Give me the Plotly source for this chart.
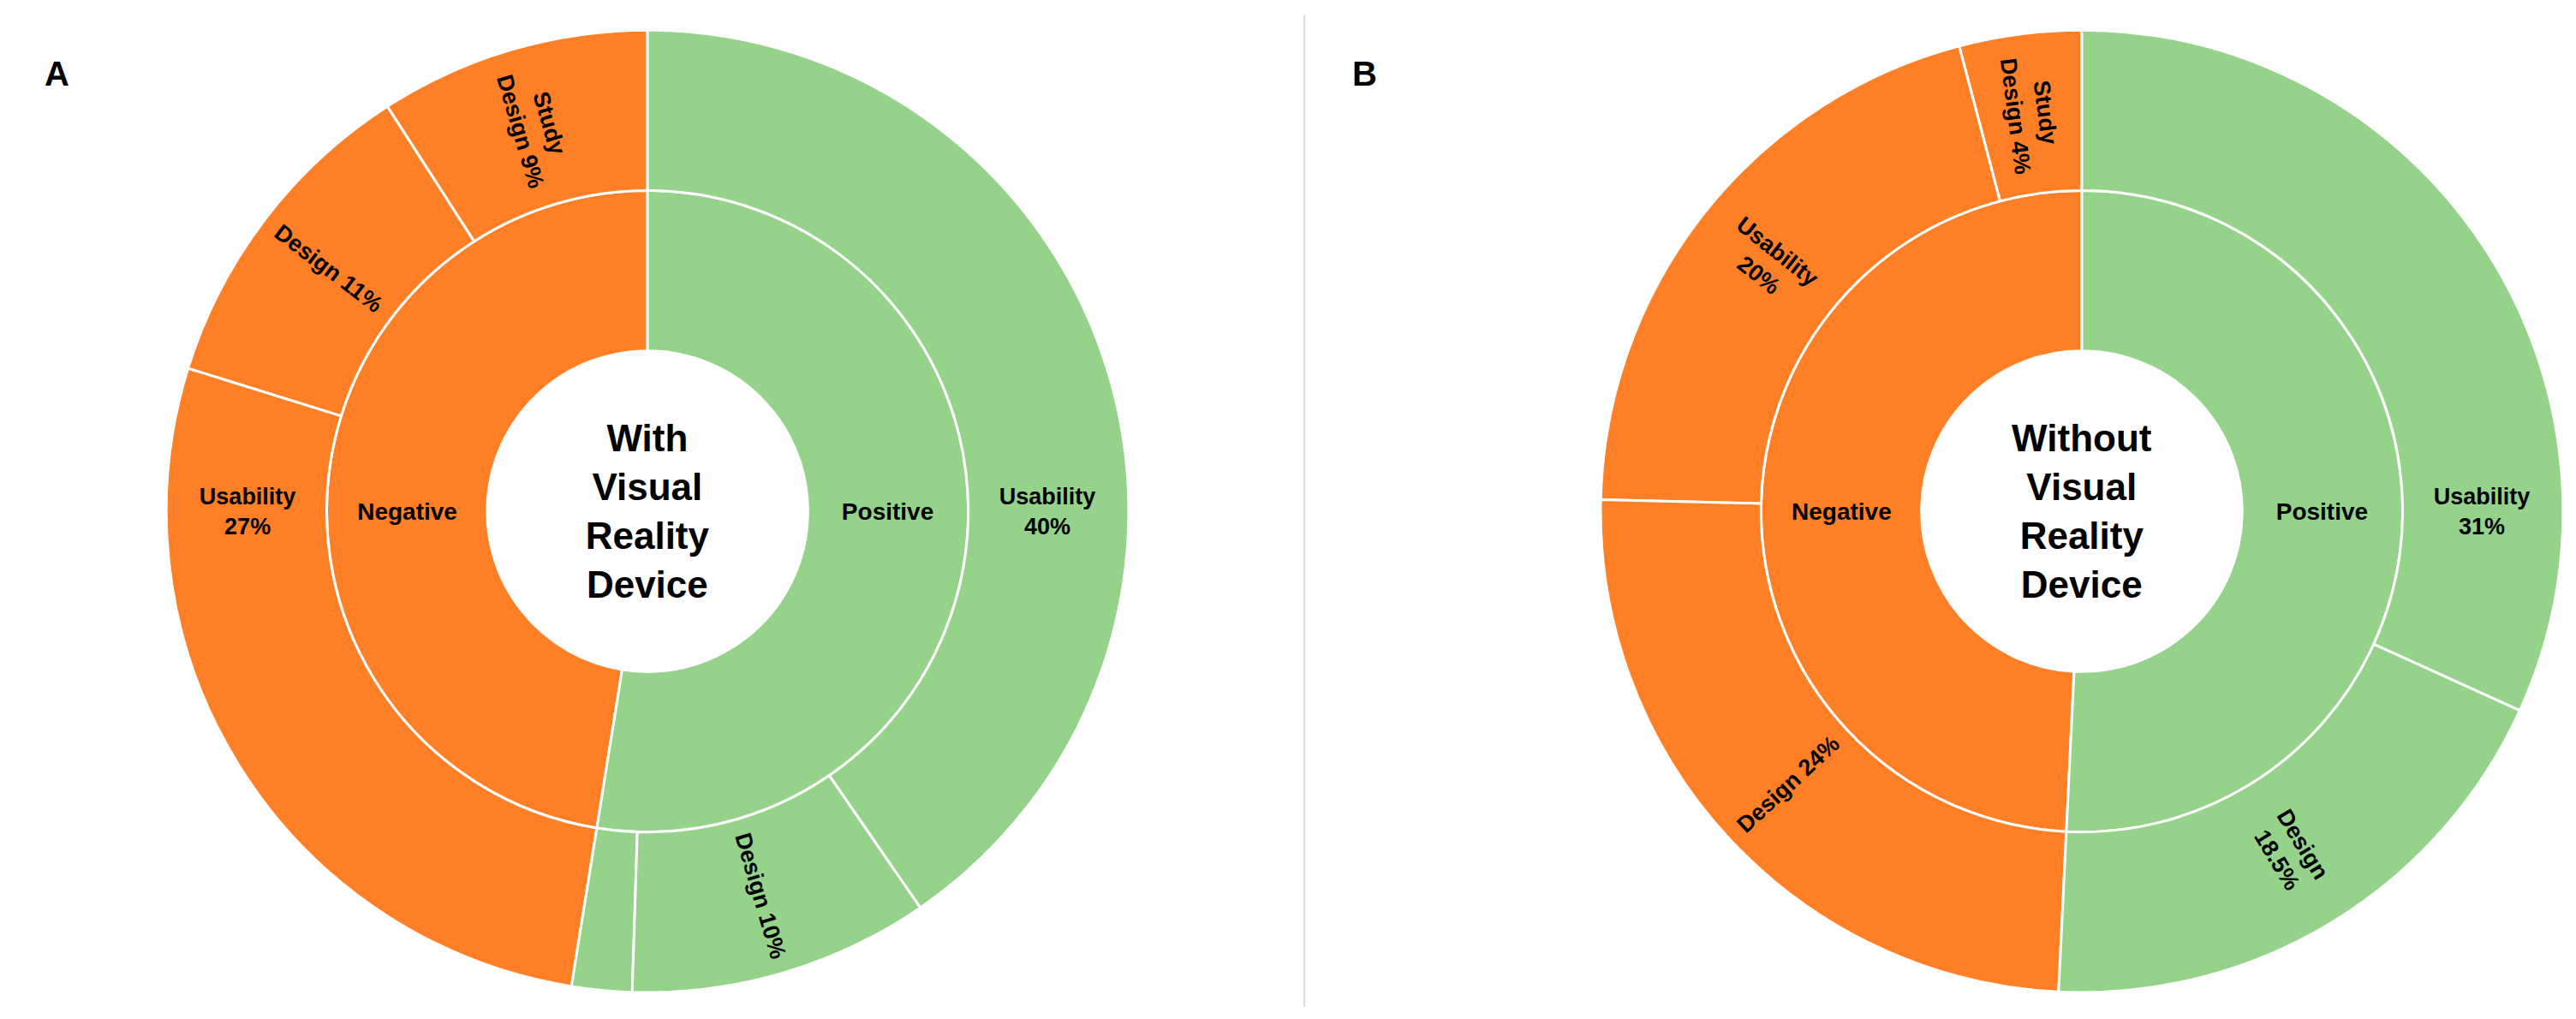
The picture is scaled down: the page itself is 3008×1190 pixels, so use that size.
import plotly.graph_objects as go

# ---------------- data ----------------
panel_letters = ["A", "B"]
center_titles = ["With<br>Visual<br>Reality<br>Device", "Without<br>Visual<br>Reality<br>Device"]
groups = ["Negative", "Positive"]

# Panel A (with visual reality device); children listed counterclockwise from 12 o'clock
a_neg_labels = ["Study Design", "Design", "Usability"]
a_neg_values = [9, 11, 27]
a_neg_text = ["Study<br>Design 9%", "Design 11%", "Usability<br>27%"]
a_pos_labels = ["Other", "Design", "Usability"]
a_pos_values = [2, 10, 40]
a_pos_text = ["", "Design 10%", "Usability<br>40%"]

# Panel B (without visual reality device)
b_neg_labels = ["Study Design", "Usability", "Design"]
b_neg_values = [4, 20, 24]
b_neg_text = ["Study<br>Design 4%", "Usability<br>20%", "Design 24%"]
b_pos_labels = ["Design", "Usability"]
b_pos_values = [18.5, 31]
b_pos_text = ["Design<br>18.5%", "Usability<br>31%"]

ORANGE = "#FE7F26"
GREEN = "#95D28A"
FONT = "Liberation Sans Narrow, Arial Narrow, Liberation Sans, Arial"


def build(prefix, title, neg_l, neg_v, neg_t, pos_l, pos_v, pos_t):
    ids, labels, parents, values, texts, colors, sizes = [], [], [], [], [], [], []
    root = prefix + "root"
    ids.append(root); labels.append(title); parents.append("")
    values.append(sum(pos_v) + sum(neg_v)); texts.append("<b>" + title + "</b>")
    colors.append("white"); sizes.append(44)
    for g, l_list, v_list, t_list, col in [
        (groups[0], neg_l, neg_v, neg_t, ORANGE),
        (groups[1], pos_l, pos_v, pos_t, GREEN),
    ]:
        gid = prefix + g
        ids.append(gid); labels.append(g); parents.append(root)
        values.append(sum(v_list)); texts.append("<b>" + g + "</b>"); colors.append(col); sizes.append(28)
        for l, v, t in zip(l_list, v_list, t_list):
            ids.append(gid + "-" + l); labels.append(l); parents.append(gid)
            values.append(v); texts.append("<b>" + t + "</b>" if t else ""); colors.append(col); sizes.append(27)
    return ids, labels, parents, values, texts, colors, sizes


fig = go.Figure()
panels = [
    ("A", center_titles[0], a_neg_labels, a_neg_values, a_neg_text, a_pos_labels, a_pos_values, a_pos_text, [0.0619, 0.4355]),
    ("B", center_titles[1], b_neg_labels, b_neg_values, b_neg_text, b_pos_labels, b_pos_values, b_pos_text, [0.6187, 0.9923]),
]
for p in panels:
    ids, labels, parents, values, texts, colors, sizes = build(p[0], p[1], *p[2:8])
    fig.add_trace(go.Sunburst(
        ids=ids, labels=labels, parents=parents, values=values, text=texts,
        branchvalues="total", sort=False, rotation=90,
        texttemplate="%{text}", insidetextorientation="radial",
        marker=dict(colors=colors, line=dict(color="white", width=3)),
        leaf=dict(opacity=1),
        textfont=dict(family=FONT, size=sizes, color="black"),
        domain=dict(x=p[8], y=[0.0327, 0.9773]),
        hoverinfo="label+value",
    ))

# letters
for letter, x in zip(panel_letters, [0.014, 0.527]):
    fig.add_annotation(text="<b>" + letter + "</b>", x=x, y=0.955, xref="paper", yref="paper",
                       showarrow=False, font=dict(family="Liberation Sans, Arial", size=40, color="black"))

# separator line
fig.add_shape(type="line", xref="paper", yref="paper", x0=0.5037, x1=0.5037, y0=0.019, y1=0.992,
              line=dict(color="#D9D9D9", width=2))

fig.update_layout(width=3008, height=1190, margin=dict(l=0, r=0, t=0, b=0),
                  paper_bgcolor="white", plot_bgcolor="white", showlegend=False)
fig.write_html("out.html")
